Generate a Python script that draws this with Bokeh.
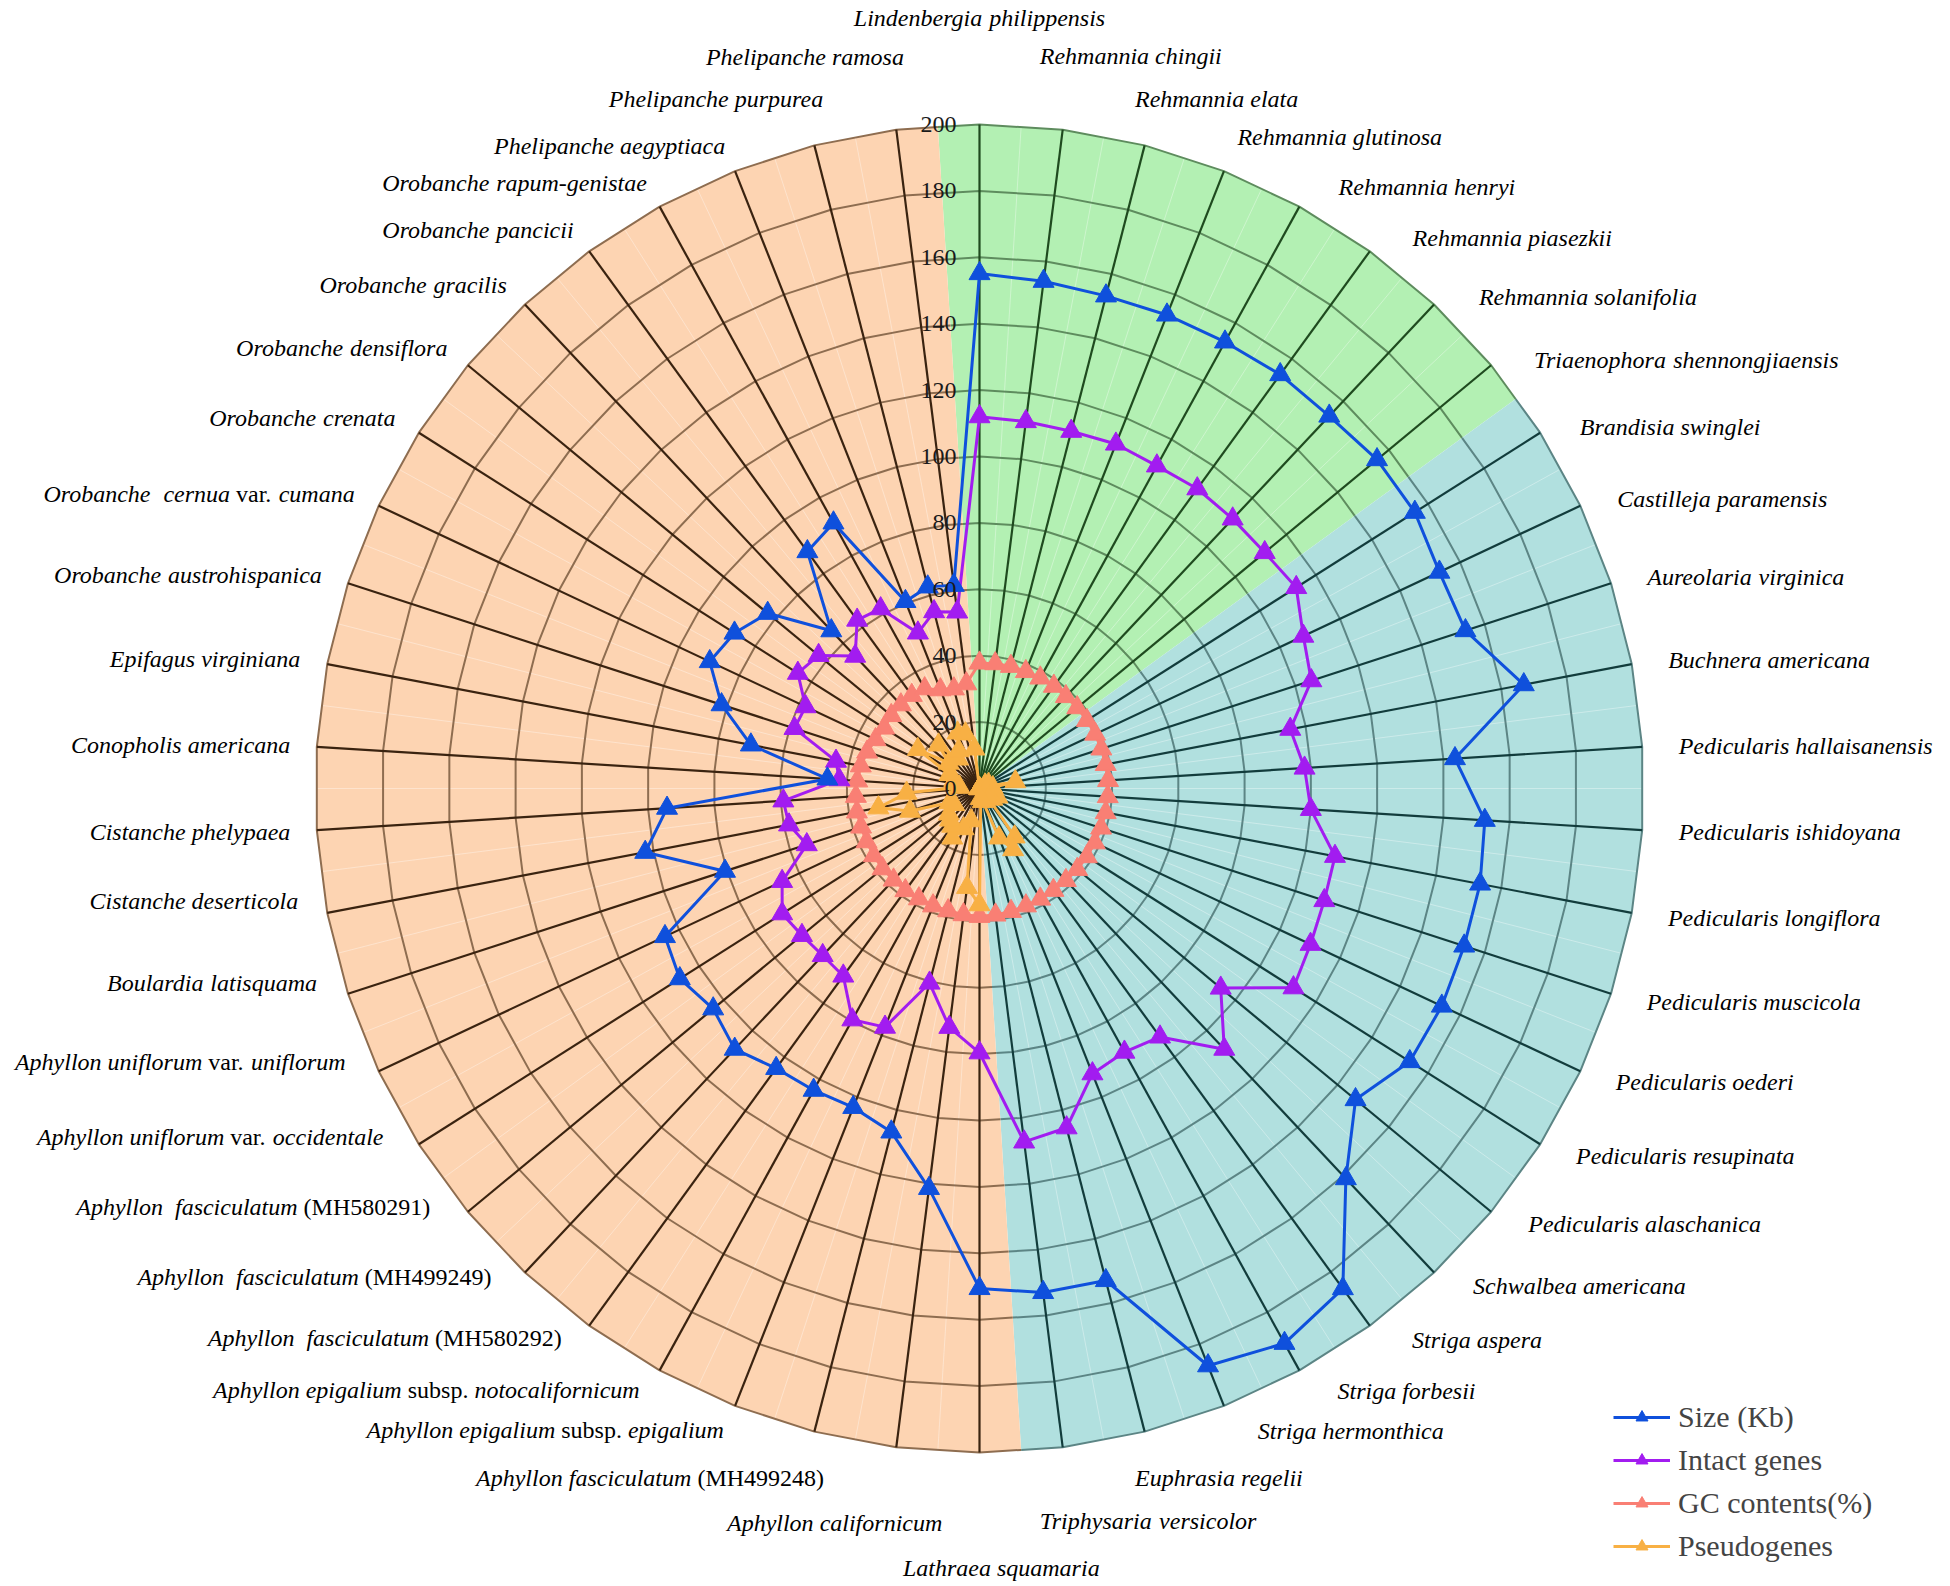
import math
import numpy as np
from bokeh.plotting import figure
from bokeh.models import Range1d, Legend, LegendItem
from bokeh.embed import file_html
from bokeh.resources import INLINE
from bokeh.core.properties import value

# ---------------- data ----------------
categories = [
    "Lindenbergia philippensis", "Rehmannia chingii", "Rehmannia elata", "Rehmannia glutinosa",
    "Rehmannia henryi", "Rehmannia piasezkii", "Rehmannia solanifolia", "Triaenophora shennongjiaensis",
    "Brandisia swinglei", "Castilleja paramensis", "Aureolaria virginica", "Buchnera americana",
    "Pedicularis hallaisanensis", "Pedicularis ishidoyana", "Pedicularis longiflora",
    "Pedicularis muscicola", "Pedicularis oederi", "Pedicularis resupinata", "Pedicularis alaschanica",
    "Schwalbea americana", "Striga aspera", "Striga forbesii", "Striga hermonthica",
    "Euphrasia regelii", "Triphysaria versicolor", "Lathraea squamaria", "Aphyllon californicum",
    "Aphyllon fasciculatum (MH499248)", "Aphyllon epigalium subsp. epigalium",
    "Aphyllon epigalium subsp. notocalifornicum", "Aphyllon  fasciculatum (MH580292)",
    "Aphyllon  fasciculatum (MH499249)", "Aphyllon  fasciculatum (MH580291)",
    "Aphyllon uniflorum var. occidentale", "Aphyllon uniflorum var. uniflorum",
    "Boulardia latisquama", "Cistanche deserticola", "Cistanche phelypaea", "Conopholis americana",
    "Epifagus virginiana", "Orobanche austrohispanica", "Orobanche  cernua var. cumana",
    "Orobanche crenata", "Orobanche densiflora", "Orobanche gracilis", "Orobanche pancicii",
    "Orobanche rapum-genistae", "Phelipanche aegyptiaca", "Phelipanche purpurea", "Phelipanche ramosa",
]

size_kb = [
    155.1, 154.0, 153.2, 153.4, 153.5, 154.1, 153.9, 155.4,
    155.3, 153.1, 153.9, 166.9, 143.5,
    152.5, 153.5, 153.5, 153.9, 153.5, 147.0, 161.2, 186.2, 190.7, 187.0, 153.0, 153.0,
    150.6, 121.4, 106.8, 103.3, 103.7, 104.2, 107.7, 104.1, 106.9, 104.7, 80.6, 102.5,
    94.3, 45.9, 70.1, 81.7, 89.8, 87.4, 82.8, 65.2, 88.2, 91.3, 60.6, 62.7, 61.7,
]

intact_genes = [
    112.0, 111.4, 111.1, 111.6, 110.9, 111.6, 111.4, 111.5,
    113.0, 107.8, 105.1, 95.3, 98.1,
    100.0, 109.0, 109.2, 110.2, 112.0, 94.3, 107.7, 92.5, 90.6, 92.4, 105.5, 107.3,
    79.6, 72.5, 60.5, 77.3, 79.5, 69.8, 69.0, 69.4, 70.4, 65.7, 54.7, 58.4,
    59.2, 42.3, 44.0, 58.6, 57.9, 64.8, 62.9, 54.7, 62.7, 61.8, 50.4, 55.0, 53.6,
]

gc_content = [
    37.8, 37.9, 38.0, 37.9, 38.0, 38.1, 38.0, 38.2,
    38.3, 38.5, 38.6, 38.7, 38.8,
    38.7, 38.7, 38.5, 38.4, 38.3, 38.2, 38.0, 37.9, 38.0, 38.0, 38.2, 38.4,
    38.5, 38.3, 38.0, 38.0, 37.9, 38.0, 37.8, 37.9, 37.7, 37.6, 37.5, 37.6,
    37.3, 36.9, 36.4, 35.6, 34.6, 34.0, 34.5, 34.6, 34.7, 34.3, 32.0, 31.0, 31.8,
]

pseudogenes = [
    0, 0, 0, 0, 0, 0, 0, 0,
    2, 3, 2, 11, 4,
    3, 2, 4, 6, 4, 5, 4, 18, 21, 16, 4, 3,
    35, 30, 10, 13, 17, 14, 13, 12, 9, 10, 22, 31,
    22, 6, 8, 8, 10, 22, 12, 18, 11, 13, 18, 17, 12,
]

series_names = ["Size (Kb)", "Intact genes", "GC contents(%)", "Pseudogenes"]
tick_values = [0, 20, 40, 60, 80, 100, 120, 140, 160, 180, 200]
tick_labels = [str(t) for t in tick_values]
sector_starts = [0, 8, 25, 50]   # category index where each coloured group begins

# ---------------- styles ----------------
W, H = 1950, 1586
CX, CY = 979, 788         # centre of the radar in frame pixels (from top-left)
K = 3.32                  # pixels per value unit
RMAX = 200
N = len(categories)
STEP = 2 * math.pi / N

sector_fill = ["#B3F0B3", "#B1E0DF", "#FDD4B2"]
sector_grid = ["#5E8C5E", "#5C8585", "#8E6D50"]
sector_spoke = ["#1F4A1F", "#123C3C", "#3A2310"]
series_colors = ["#0F50DC", "#A21CF0", "#F97F74", "#F8B044"]
SERIF = "Liberation Serif"

p = figure(width=W, height=H, output_backend="svg", toolbar_location=None,
           x_range=Range1d(-CX / K, (W - CX) / K), y_range=Range1d(-(H - CY) / K, CY / K),
           x_axis_location=None, y_axis_location=None, min_border=0,
           outline_line_color=None, background_fill_color="white", border_fill_color="white")
p.grid.visible = False


def polar(r, a):
    return r * math.sin(a), r * math.cos(a)


edge = math.cos(STEP / 2)

# sectors, grid polygons, spokes
for g in range(3):
    i0, i1 = sector_starts[g], sector_starts[g + 1] - 1
    a0, a1 = (i0 - 0.5) * STEP, (i1 + 0.5) * STEP

    def outline(r):
        pts = [polar(r * edge, a0)] + [polar(r, i * STEP) for i in range(i0, i1 + 1)] + [polar(r * edge, a1)]
        return [q[0] for q in pts], [q[1] for q in pts]

    ox, oy = outline(RMAX)
    p.patch([0] + ox, [0] + oy, fill_color=sector_fill[g], line_color=None)
    mxs, mys = [], []
    for i in range(i0, i1):
        x, y = polar(RMAX * edge, (i + 0.5) * STEP)
        mxs.append([0, x]); mys.append([0, y])
    p.multi_line(mxs, mys, line_color="white", line_alpha=0.35, line_width=1)
    gxs, gys = [], []
    for t in tick_values[1:]:
        gx, gy = outline(t)
        gxs.append(gx); gys.append(gy)
    p.multi_line(gxs, gys, line_color=sector_grid[g], line_width=2)
    sxs, sys_ = [], []
    for i in range(i0, i1 + 1):
        x, y = polar(RMAX, i * STEP)
        sxs.append([0, x]); sys_.append([0, y])
    p.multi_line(sxs, sys_, line_color=sector_spoke[g], line_width=2.2)

# data series
renderers = []
for vals, col in zip([gc_content, pseudogenes, intact_genes, size_kb],
                     [series_colors[2], series_colors[3], series_colors[1], series_colors[0]]):
    xs = [polar(v, i * STEP)[0] for i, v in enumerate(vals)]
    ys = [polar(v, i * STEP)[1] for i, v in enumerate(vals)]
    ln = p.line(xs + xs[:1], ys + ys[:1], line_color=col, line_width=3)
    sc = p.scatter(xs, ys, marker="triangle", size=21, fill_color=col, line_color=col)
    renderers.append((ln, sc))
renderers = [renderers[3], renderers[2], renderers[0], renderers[1]]

# radial tick labels
p.text(x=[0] * len(tick_values), y=tick_values, text=tick_labels, x_offset=-23,
       text_align="right", text_baseline="middle", text_font=value(SERIF),
       text_font_size="24px", text_color="#1A1A1A")

# category labels (italic names, upright qualifiers), each word placed on its own
ITAL = {' ': 250, '(': 333, ')': 333, '-': 333, '.': 250, 'A': 611, 'B': 611, 'C': 667, 'E': 611,
        'H': 722, 'L': 556, 'M': 833, 'O': 722, 'P': 611, 'R': 611, 'S': 500, 'T': 556,
        'a': 500, 'b': 500, 'c': 444, 'd': 500, 'e': 444, 'f': 278, 'g': 500, 'h': 500, 'i': 278,
        'j': 278, 'k': 444, 'l': 278, 'm': 722, 'n': 500, 'o': 500, 'p': 500, 'q': 500, 'r': 389,
        's': 389, 't': 278, 'u': 500, 'v': 444, 'w': 667, 'x': 444, 'y': 444, 'z': 389}
ROMAN = {' ': 250, '(': 333, ')': 333, '-': 333, '.': 250, 'A': 722, 'B': 667, 'C': 667, 'E': 611,
         'H': 722, 'L': 611, 'M': 889, 'O': 722, 'P': 556, 'R': 667, 'S': 556, 'T': 611,
         'a': 444, 'b': 500, 'c': 444, 'd': 500, 'e': 444, 'f': 333, 'g': 500, 'h': 500, 'i': 278,
         'j': 278, 'k': 500, 'l': 278, 'm': 778, 'n': 500, 'o': 500, 'p': 500, 'q': 500, 'r': 333,
         's': 389, 't': 278, 'u': 500, 'v': 500, 'w': 722, 'x': 500, 'y': 500, 'z': 444}
FS = 24


def text_width(s, style):
    table = ITAL if style == "italic" else ROMAN
    return sum(table.get(ch, 500) for ch in s) * FS / 1000.0


def words(label):
    out = []
    for t in label.split(" "):
        upright = t in ("var.", "subsp.") or t.startswith("(")
        out.append((t, "normal" if upright else "italic"))
    return out


# angular nudges (degrees, + = clockwise) of the label ring, by direction
ROT_DEG = [0, 22, 29, 45, 55, 68, 90, 112, 125, 137, 145, 152, 158.5, 160, 200, 230, 265, 266, 360]
ROT_VAL = [0, 0, 2.1, 2.3, 1.6, 0.5, 0, -0.3, -0.9, -1.6, -2.2, -1.9, -1.8, 0, 0, 2.3, 1.2, 0, 0]


def label_pos(a, s):
    deg = round(math.degrees(a), 6) % 360
    vert = 0.0 if (deg < 90 or deg > 270) else 180.0
    d = (deg - vert + 180) % 360 - 180
    dist = abs(d)
    if dist < 1e-6:                       # labels on the vertical axis
        r = 232 if vert == 0 else 235
        out = vert - (1.6 if vert == 180 else 0)
    elif dist < 10:                       # first labels beside the vertical axis
        r = 221.5
        pull = 2.5 if s > 0 else (1.3 if vert == 0 else 4.3)
        out = vert + d - math.copysign(pull, d)
    elif dist < 20:                       # second labels beside the vertical axis
        r = 213
        out = vert + d - math.copysign(1.7, d)
    else:
        r = 211 if s > 0 else 208
        out = vert + d + float(np.interp(deg, ROT_DEG, ROT_VAL))
    return polar(r, math.radians(out))


lab = {"italic": dict(x=[], y=[], text=[], xo=[]), "normal": dict(x=[], y=[], text=[], xo=[])}
space = text_width(" ", "italic")
for i, name in enumerate(categories):
    a = i * STEP
    s = math.sin(a)
    centred = abs(s) < 1e-6
    x, y = label_pos(a, 0 if centred else s)
    ws = words(name)
    total = sum(text_width(t, st) for t, st in ws) + space * (len(ws) - 1)
    off = -total / 2 if centred else (0 if s > 0 else -total)
    for t, st in ws:
        if t:
            dd = lab[st]
            dd["x"].append(x); dd["y"].append(y); dd["text"].append(t); dd["xo"].append(off)
        off += text_width(t, st) + space

for st, dd in lab.items():
    p.text(x=dd["x"], y=dd["y"], text=dd["text"], x_offset=dd["xo"], text_align="left",
           text_baseline="middle", text_font=value(SERIF), text_font_size=f"{FS}px",
           text_font_style=st, text_color="black")

legend = Legend(items=[LegendItem(label=n, renderers=list(r)) for n, r in zip(series_names, renderers)],
                location=(1613, 23), glyph_width=57, glyph_height=30, spacing=9, label_standoff=8,
                label_text_font=SERIF, label_text_font_size="30px", background_fill_alpha=0,
                border_line_alpha=0, padding=0, margin=0)
p.add_layout(legend)

open("out.html", "w").write(file_html(p, INLINE))
